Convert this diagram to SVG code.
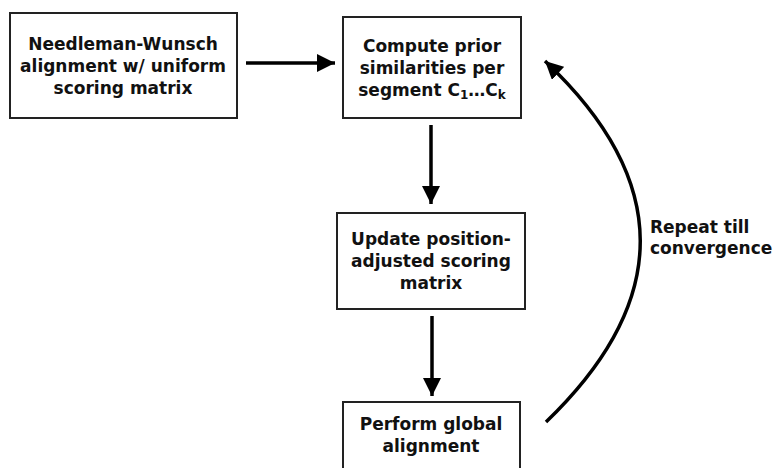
<svg xmlns="http://www.w3.org/2000/svg" width="778" height="468" viewBox="0 0 778 468">
<defs>
<marker id="ah" markerUnits="userSpaceOnUse" markerWidth="20" markerHeight="18" refX="18" refY="9" orient="auto">
<path d="M0,0 L18,9 L0,18 Z" fill="#000"/>
</marker>
<style>
.box{fill:#fff;stroke:#222;stroke-width:2}
.t{font-family:"DejaVu Sans",Verdana,sans-serif;font-weight:bold;font-size:17px;fill:#111;text-anchor:middle}
.c{fill:none;stroke:#000;stroke-width:3.5}
</style>
</defs>
<rect width="778" height="468" fill="#fff"/>
<g id="n1">
<rect class="box" x="10" y="13" width="227" height="105"/>
<text class="t" x="123" y="50">Needleman-Wunsch</text>
<text class="t" x="123" y="72">alignment w/ uniform</text>
<text class="t" x="123" y="94">scoring matrix</text>
</g>
<g id="n2">
<rect class="box" x="343" y="17" width="178" height="101"/>
<text class="t" x="432" y="52">Compute prior</text>
<text class="t" x="432" y="74">similarities per</text>
<text class="t" x="432" y="96">segment C<tspan font-size="12" dy="3">1</tspan><tspan dy="-3">…C</tspan><tspan font-size="12" dy="3">k</tspan></text>
</g>
<g id="n3">
<rect class="box" x="337" y="213" width="188" height="96"/>
<text class="t" x="431" y="245">Update position-</text>
<text class="t" x="431" y="267">adjusted scoring</text>
<text class="t" x="431" y="289">matrix</text>
</g>
<g id="n4">
<rect class="box" x="343" y="402" width="177" height="80"/>
<text class="t" x="431" y="430">Perform global</text>
<text class="t" x="431" y="452">alignment</text>
</g>
<g id="edges">
<path class="c" d="M246,63 L335,63" marker-end="url(#ah)"/>
<path class="c" d="M431,125 L431,204" marker-end="url(#ah)"/>
<path class="c" d="M432,316 L432,396" marker-end="url(#ah)"/>
<path class="c" d="M546,422 Q735,240 545,61" marker-end="url(#ah)"/>
<text class="t" x="650" y="233" style="text-anchor:start">Repeat till</text>
<text class="t" x="650" y="254" style="text-anchor:start">convergence</text>
</g>
</svg>
